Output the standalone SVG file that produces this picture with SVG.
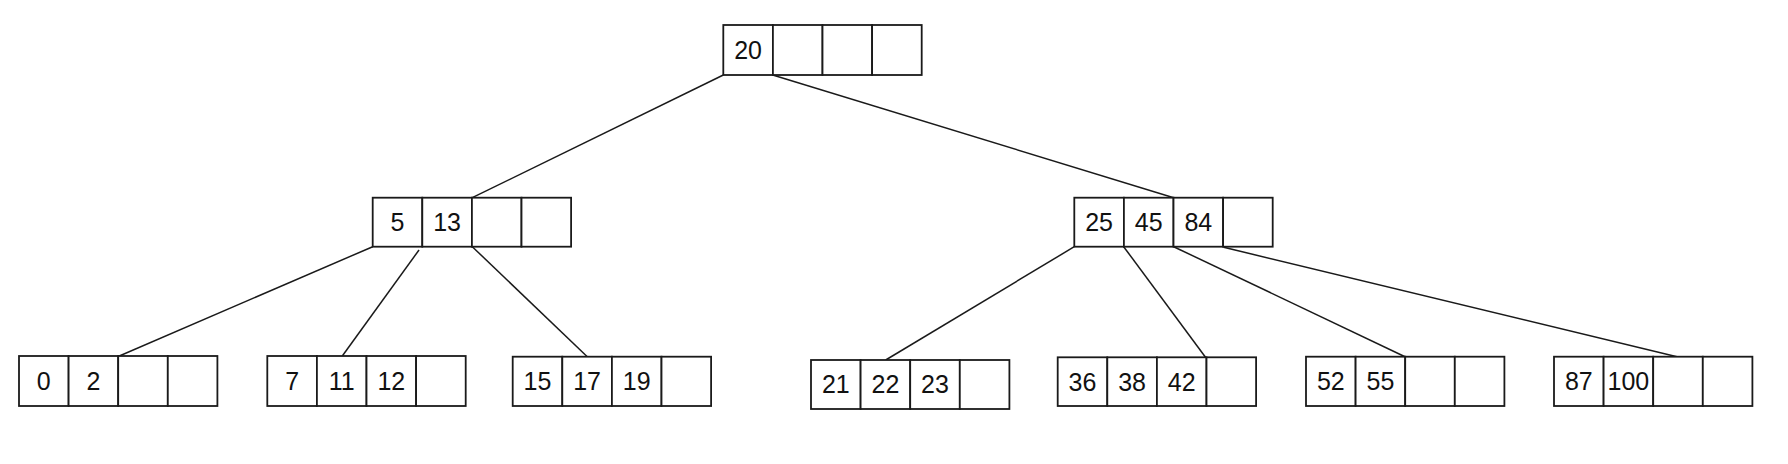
<svg xmlns="http://www.w3.org/2000/svg" width="1788" height="464" viewBox="0 0 1788 464">
<style>
.c{fill:#fff;stroke:#1a1a1a;stroke-width:1.8}
.t{font-family:"Liberation Sans",Arial,sans-serif;font-size:25px;fill:#111;text-anchor:middle}
.e{stroke:#1a1a1a;stroke-width:1.5;fill:none}
</style>
<rect width="1788" height="464" fill="#fff"/>
<g id="connectors">
<line class="e" x1="723.3" y1="75" x2="472.3" y2="197.7"/>
<line class="e" x1="772.7" y1="75" x2="1173.7" y2="197.7"/>
<line class="e" x1="372.7" y1="246.7" x2="119.3" y2="356"/>
<line class="e" x1="419" y1="250" x2="342.3" y2="356"/>
<line class="e" x1="472.3" y1="246.7" x2="587.3" y2="356.7"/>
<line class="e" x1="1074.3" y1="246.7" x2="885.7" y2="360"/>
<line class="e" x1="1123.7" y1="246.7" x2="1205.5" y2="357.3"/>
<line class="e" x1="1173.7" y1="246.7" x2="1405" y2="356.7"/>
<line class="e" x1="1223.7" y1="247.3" x2="1677" y2="356.7"/>
</g>
<g id="node-root" transform="translate(723.3,25)">
<rect class="c" x="0" y="0" width="49.6" height="50"/><rect class="c" x="49.6" y="0" width="49.6" height="50"/><rect class="c" x="99.2" y="0" width="49.6" height="50"/><rect class="c" x="148.8" y="0" width="49.6" height="50"/>
<text class="t" x="24.8" y="33.9">20</text>
</g>
<g id="node-5-13" transform="translate(372.7,197.7)">
<rect class="c" x="0" y="0" width="49.6" height="49"/><rect class="c" x="49.6" y="0" width="49.6" height="49"/><rect class="c" x="99.2" y="0" width="49.6" height="49"/><rect class="c" x="148.8" y="0" width="49.6" height="49"/>
<text class="t" x="24.8" y="33.4">5</text><text class="t" x="74.4" y="33.4">13</text>
</g>
<g id="node-25-45-84" transform="translate(1074.3,197.7)">
<rect class="c" x="0" y="0" width="49.6" height="49"/><rect class="c" x="49.6" y="0" width="49.6" height="49"/><rect class="c" x="99.2" y="0" width="49.6" height="49"/><rect class="c" x="148.8" y="0" width="49.6" height="49"/>
<text class="t" x="24.8" y="33.4">25</text><text class="t" x="74.4" y="33.4">45</text><text class="t" x="124" y="33.4">84</text>
</g>
<g id="node-0-2" transform="translate(19,356)">
<rect class="c" x="0" y="0" width="49.6" height="50"/><rect class="c" x="49.6" y="0" width="49.6" height="50"/><rect class="c" x="99.2" y="0" width="49.6" height="50"/><rect class="c" x="148.8" y="0" width="49.6" height="50"/>
<text class="t" x="24.8" y="33.9">0</text><text class="t" x="74.4" y="33.9">2</text>
</g>
<g id="node-7-11-12" transform="translate(267.3,356)">
<rect class="c" x="0" y="0" width="49.6" height="50"/><rect class="c" x="49.6" y="0" width="49.6" height="50"/><rect class="c" x="99.2" y="0" width="49.6" height="50"/><rect class="c" x="148.8" y="0" width="49.6" height="50"/>
<text class="t" x="24.8" y="33.9">7</text><text class="t" x="74.4" y="33.9">11</text><text class="t" x="124" y="33.9">12</text>
</g>
<g id="node-15-17-19" transform="translate(512.7,356.7)">
<rect class="c" x="0" y="0" width="49.6" height="49.3"/><rect class="c" x="49.6" y="0" width="49.6" height="49.3"/><rect class="c" x="99.2" y="0" width="49.6" height="49.3"/><rect class="c" x="148.8" y="0" width="49.6" height="49.3"/>
<text class="t" x="24.8" y="33.6">15</text><text class="t" x="74.4" y="33.6">17</text><text class="t" x="124" y="33.6">19</text>
</g>
<g id="node-21-22-23" transform="translate(811,360)">
<rect class="c" x="0" y="0" width="49.6" height="49"/><rect class="c" x="49.6" y="0" width="49.6" height="49"/><rect class="c" x="99.2" y="0" width="49.6" height="49"/><rect class="c" x="148.8" y="0" width="49.6" height="49"/>
<text class="t" x="24.8" y="33.4">21</text><text class="t" x="74.4" y="33.4">22</text><text class="t" x="124" y="33.4">23</text>
</g>
<g id="node-36-38-42" transform="translate(1057.7,357.3)">
<rect class="c" x="0" y="0" width="49.6" height="48.7"/><rect class="c" x="49.6" y="0" width="49.6" height="48.7"/><rect class="c" x="99.2" y="0" width="49.6" height="48.7"/><rect class="c" x="148.8" y="0" width="49.6" height="48.7"/>
<text class="t" x="24.8" y="33.3">36</text><text class="t" x="74.4" y="33.3">38</text><text class="t" x="124" y="33.3">42</text>
</g>
<g id="node-52-55" transform="translate(1306,356.7)">
<rect class="c" x="0" y="0" width="49.6" height="49.3"/><rect class="c" x="49.6" y="0" width="49.6" height="49.3"/><rect class="c" x="99.2" y="0" width="49.6" height="49.3"/><rect class="c" x="148.8" y="0" width="49.6" height="49.3"/>
<text class="t" x="24.8" y="33.6">52</text><text class="t" x="74.4" y="33.6">55</text>
</g>
<g id="node-87-100" transform="translate(1554,356.7)">
<rect class="c" x="0" y="0" width="49.6" height="49.3"/><rect class="c" x="49.6" y="0" width="49.6" height="49.3"/><rect class="c" x="99.2" y="0" width="49.6" height="49.3"/><rect class="c" x="148.8" y="0" width="49.6" height="49.3"/>
<text class="t" x="24.8" y="33.6">87</text><text class="t" x="74.4" y="33.6">100</text>
</g>
</svg>
